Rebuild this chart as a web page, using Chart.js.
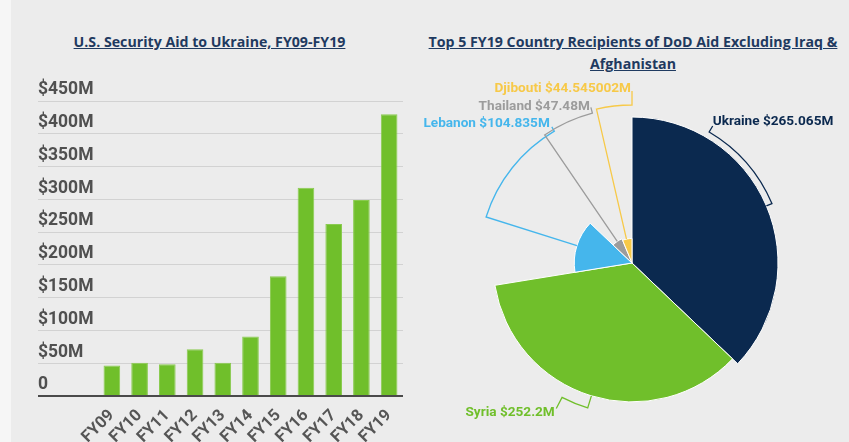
<!DOCTYPE html>
<html>
<head>
<meta charset="utf-8">
<script src="https://cdn.jsdelivr.net/npm/chart.js@4.4.1/dist/chart.umd.min.js"></script>
<style>
  html, body { margin: 0; padding: 0; }
  body { width: 849px; height: 442px; background: #f6f6f6; position: relative; overflow: hidden; }
  #bg { position: absolute; left: 11px; top: 0; right: 0; bottom: 0; background: #ececec; }
  .ttl { position: absolute; text-align: center; white-space: nowrap;
         font-family: "Open Sans", sans-serif; font-weight: 700; font-size: 14.2px;
         color: #1f3a60; text-decoration: underline; line-height: 22px; }
  #t1 { left: 11px; width: 397px; top: 31px; }
  #t2 { left: 420px; width: 426px; top: 31px; }
  #barBox { position: absolute; left: 0; top: 0; }
  #pieBox { position: absolute; left: 420px; top: 0; }
</style>
</head>
<body>
<div id="bg"></div>
<div class="ttl" id="t1">U.S. Security Aid to Ukraine, FY09-FY19</div>
<div class="ttl" id="t2">Top 5 FY19 Country Recipients of DoD Aid Excluding Iraq &amp;<br>Afghanistan</div>
<div id="barBox"><canvas id="bar" width="420" height="442"></canvas></div>
<div id="pieBox"><canvas id="pie" width="429" height="442"></canvas></div>
<script>
// bar chart data ($M)
const years = ['FY09', 'FY10', 'FY11', 'FY12', 'FY13', 'FY14', 'FY15', 'FY16', 'FY17', 'FY18', 'FY19'];
const aidMillions = [46.5, 50.6, 48.6, 71.5, 50.6, 90.7, 182.8, 317.8, 262.5, 299, 429.7];
const yMax = 450;
const yStep = 50;

// pie chart data ($M)
const countries = ['Ukraine', 'Syria', 'Lebanon', 'Thailand', 'Djibouti'];
const fy19Aid = [265.065, 252.2, 104.835, 47.48, 44.545002];
const countryColors = ['#0b294f', '#70bf2b', '#45b6ec', '#9c9c9c', '#f7c948'];

const zeroLine = c => c.tick && c.tick.value === 0;

new Chart(document.getElementById('bar'), {
  type: 'bar',
  data: {
    labels: years,
    datasets: [{
      data: aidMillions,
      backgroundColor: '#70bf2b',
      borderColor: '#8acb50',
      borderWidth: 1,
      barPercentage: 0.6,
      categoryPercentage: 1
    }]
  },
  options: {
    responsive: false,
    animation: false,
    events: [],
    layout: { padding: { left: 38, top: 101, right: 17, bottom: 0 } },
    plugins: { legend: { display: false }, tooltip: { enabled: false } },
    scales: {
      x: {
        grid: { display: false, drawTicks: false },
        border: { display: false },
        ticks: {
          color: '#555', autoSkip: false, minRotation: 45, maxRotation: 45, padding: 10,
          font: { family: 'Roboto', size: 16.5, weight: 'bold' }
        },
        afterFit: s => { s.height = 46; }
      },
      y: {
        min: 0, max: yMax,
        border: { display: false },
        grid: {
          color: c => zeroLine(c) ? '#4a4a4a' : '#d2d2d2',
          tickColor: c => zeroLine(c) ? '#4a4a4a' : '#d2d2d2',
          lineWidth: c => zeroLine(c) ? 2 : 1,
          tickLength: 60
        },
        ticks: {
          stepSize: yStep,
          crossAlign: 'far',
          labelOffset: -11,
          padding: 0,
          color: '#505050',
          font: { family: 'Roboto', size: 17.5, weight: 'bold' },
          callback: v => v === 0 ? '0' : '$' + v + 'M'
        },
        afterFit: s => { s.width = 60; }
      }
    }
  }
});

// each slice's radius is scaled by its value
const variableRadius = {
  id: 'variableRadius',
  afterDatasetsUpdate(chart) {
    const vals = chart.data.datasets[0].data;
    const maxV = Math.max(...vals);
    chart.getDatasetMeta(0).data.forEach((arc, i) => {
      arc.outerRadius = arc.outerRadius * vals[i] / maxV;
    });
  }
};

// leader lines: out from slice at a0, along arc radius rArc to a1, then out to rEnd
const leaders = [
  { a0: -23, a1: -59.5, rArc: 152, rEnd: 159, align: 'left', dx: 0, dy: -1 },
  { a0: 107, a1: 117.5, rArc: 151.5, rEnd: 164, align: 'right', dx: -1.5, dy: 7.5 },
  { a0: 197.5, a1: 239.5, rArc: 153, rEnd: 158, align: 'right', dx: -2, dy: 0 },
  { a0: 235.7, a1: 255.2, rArc: 155, rEnd: 161, align: 'right', dx: -1, dy: 3 },
  { a0: 257, a1: 270, rArc: 158, rEnd: 172, align: 'right', dx: -1, dy: 0.5 }
];

const leaderLabels = {
  id: 'leaderLabels',
  afterDraw(chart) {
    const ctx = chart.ctx;
    const vals = chart.data.datasets[0].data;
    const rad = d => d * Math.PI / 180;
    chart.getDatasetMeta(0).data.forEach((arc, i) => {
      const L = leaders[i];
      const cx = arc.x, cy = arc.y;
      const P = (deg, r) => [cx + r * Math.cos(rad(deg)), cy + r * Math.sin(rad(deg))];
      ctx.save();
      ctx.strokeStyle = countryColors[i];
      ctx.lineWidth = 1.3;
      ctx.beginPath();
      ctx.moveTo(...P(L.a0, arc.outerRadius));
      ctx.lineTo(...P(L.a0, L.rArc));
      ctx.arc(cx, cy, L.rArc, rad(L.a0), rad(L.a1), L.a1 < L.a0);
      const end = P(L.a1, L.rEnd);
      ctx.lineTo(...end);
      ctx.stroke();
      ctx.fillStyle = countryColors[i];
      ctx.font = 'bold 13.6px Roboto';
      ctx.textAlign = L.align;
      ctx.textBaseline = 'alphabetic';
      ctx.fillText(countries[i] + ' $' + vals[i] + 'M', end[0] + L.dx, end[1] + L.dy);
      ctx.restore();
    });
  }
};

new Chart(document.getElementById('pie'), {
  type: 'pie',
  data: {
    labels: countries,
    datasets: [{
      data: fy19Aid,
      backgroundColor: countryColors,
      borderColor: '#ffffff',
      borderWidth: 1
    }]
  },
  options: {
    responsive: false,
    animation: false,
    events: [],
    radius: 146,
    layout: { padding: { left: 66, top: 117, right: 71, bottom: 33 } },
    plugins: { legend: { display: false }, tooltip: { enabled: false } }
  },
  plugins: [variableRadius, leaderLabels]
});
</script>
</body>
</html>
